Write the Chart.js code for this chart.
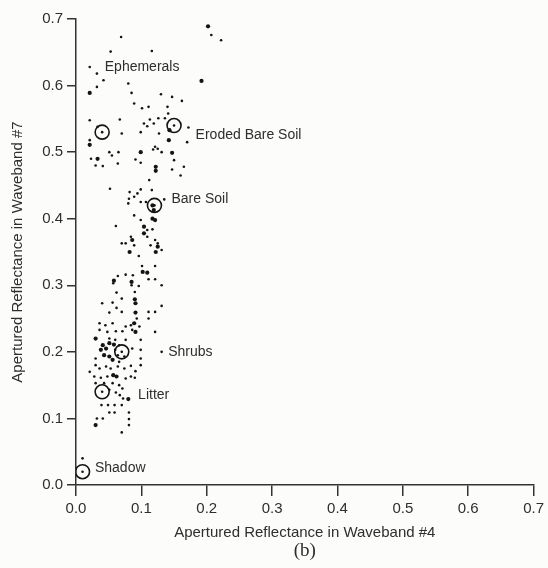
<!DOCTYPE html>
<html>
<head>
<meta charset="utf-8">
<script src="https://cdn.jsdelivr.net/npm/chart.js@4/dist/chart.umd.min.js"></script>
<style>
  html, body { margin: 0; padding: 0; background: #fcfcfa; }
  #wrap { width: 548px; height: 568px; position: relative; }
</style>
</head>
<body>
<div id="wrap"><canvas id="c"></canvas></div>
<script>
// Reflectance samples: waveband #4 (x) against waveband #7 (y)
const band4 = [
  0.207, 0.222, 0.069, 0.053, 0.116, 0.021, 0.032, 0.042, 0.032, 0.080, 0.085, 0.130,
  0.147, 0.162, 0.089, 0.101, 0.111, 0.140, 0.141, 0.021, 0.067, 0.113, 0.126, 0.136,
  0.104, 0.109, 0.119, 0.033, 0.070, 0.172, 0.099, 0.127, 0.170, 0.021, 0.051, 0.055,
  0.065, 0.121, 0.125, 0.118, 0.131, 0.023, 0.064, 0.091, 0.099, 0.030, 0.041, 0.150,
  0.165,
  0.147, 0.160, 0.112, 0.052, 0.099, 0.116, 0.094, 0.089, 0.082, 0.081, 0.080, 0.099,
  0.107, 0.135, 0.089, 0.099, 0.061, 0.109, 0.117, 0.109, 0.084, 0.076, 0.121, 0.125,
  0.070, 0.089, 0.114, 0.131, 0.096, 0.101, 0.121, 0.064, 0.076, 0.087, 0.057, 0.085,
  0.111, 0.121, 0.096, 0.131, 0.062, 0.090, 0.070, 0.040, 0.056, 0.062, 0.131, 0.051,
  0.070, 0.111, 0.121, 0.093, 0.111,
  0.036, 0.045, 0.056, 0.076, 0.084, 0.097, 0.121, 0.036, 0.048, 0.061, 0.071, 0.086,
  0.051, 0.060, 0.076, 0.099, 0.066, 0.060, 0.086, 0.099, 0.064, 0.074, 0.099, 0.030,
  0.066, 0.099, 0.021, 0.030, 0.036, 0.046, 0.053, 0.064, 0.074, 0.084, 0.028, 0.038,
  0.048, 0.076, 0.084, 0.090, 0.091, 0.030, 0.043, 0.056, 0.066, 0.051, 0.071, 0.131,
  0.061, 0.067, 0.072, 0.039, 0.049, 0.059, 0.070, 0.051, 0.059, 0.081, 0.032, 0.041,
  0.081, 0.081, 0.070, 0.010
];
const band7 = [
  0.676, 0.668, 0.673, 0.651, 0.652, 0.628, 0.618, 0.608, 0.598, 0.603, 0.589, 0.587,
  0.583, 0.577, 0.573, 0.566, 0.568, 0.568, 0.558, 0.548, 0.549, 0.549, 0.551, 0.551,
  0.543, 0.539, 0.543, 0.538, 0.528, 0.537, 0.530, 0.528, 0.515, 0.518, 0.500, 0.495,
  0.500, 0.508, 0.505, 0.504, 0.500, 0.490, 0.483, 0.489, 0.484, 0.480, 0.479, 0.488,
  0.478,
  0.474, 0.465, 0.458, 0.445, 0.444, 0.443, 0.438, 0.433, 0.440, 0.430, 0.423, 0.425,
  0.425, 0.429, 0.405, 0.398, 0.389, 0.383, 0.384, 0.373, 0.373, 0.363, 0.368, 0.363,
  0.363, 0.360, 0.360, 0.353, 0.344, 0.329, 0.329, 0.314, 0.316, 0.315, 0.303, 0.300,
  0.309, 0.309, 0.299, 0.300, 0.289, 0.290, 0.280, 0.273, 0.274, 0.266, 0.269, 0.259,
  0.260, 0.260, 0.260, 0.250, 0.250,
  0.243, 0.240, 0.243, 0.238, 0.240, 0.238, 0.230, 0.233, 0.230, 0.231, 0.231, 0.233,
  0.220, 0.218, 0.218, 0.218, 0.210, 0.203, 0.205, 0.203, 0.195, 0.193, 0.190, 0.190,
  0.185, 0.180, 0.170, 0.180, 0.175, 0.178, 0.175, 0.178, 0.175, 0.179, 0.163, 0.161,
  0.163, 0.160, 0.163, 0.161, 0.171, 0.153, 0.153, 0.153, 0.150, 0.143, 0.145, 0.200,
  0.139, 0.135, 0.130, 0.120, 0.120, 0.120, 0.120, 0.109, 0.109, 0.109, 0.100, 0.100,
  0.099, 0.090, 0.079, 0.040
];

// Heavier (overprinted) samples
const band4Dense = [
  0.202, 0.192, 0.021, 0.143, 0.142, 0.021, 0.099, 0.147, 0.033, 0.122,
  0.122, 0.117, 0.119, 0.117, 0.121, 0.104, 0.104, 0.086, 0.125, 0.122, 0.082,
  0.102, 0.109, 0.058, 0.085, 0.090, 0.091, 0.091,
  0.089, 0.091, 0.030, 0.041, 0.051, 0.058, 0.038, 0.046, 0.043, 0.051, 0.056,
  0.057, 0.062, 0.080, 0.030
];
const band7Dense = [
  0.689, 0.607, 0.589, 0.533, 0.518, 0.511, 0.500, 0.499, 0.490, 0.478,
  0.472, 0.420, 0.413, 0.400, 0.398, 0.388, 0.378, 0.368, 0.358, 0.350, 0.350,
  0.320, 0.319, 0.307, 0.305, 0.279, 0.273, 0.259,
  0.243, 0.230, 0.220, 0.210, 0.213, 0.211, 0.203, 0.205, 0.195, 0.193, 0.188,
  0.165, 0.163, 0.129, 0.090
];

// Circled surface types
const siteNames = ['Ephemerals', 'Eroded Bare Soil', 'Bare Soil', 'Shrubs', 'Litter', 'Shadow'];
const siteBand4 = [0.040, 0.150, 0.120, 0.070, 0.040, 0.010];
const siteBand7 = [0.530, 0.540, 0.420, 0.200, 0.140, 0.020];

// Where each name is written (data units, left edge of the text)
const labelBand4 = [0.044, 0.183, 0.146, 0.141, 0.095, 0.029];
const labelBand7 = [0.628, 0.526, 0.429, 0.199, 0.135, 0.026];

const tickValues = [0, 0.1, 0.2, 0.3, 0.4, 0.5, 0.6, 0.7];

const INK = '#141414';
const AXIS = '#333333';
const TEXT = '#2e2e2e';
const SANS = '"Liberation Sans", Arial, sans-serif';

const toPoints = (xs, ys) => xs.map((x, i) => ({ x, y: ys[i] }));

const siteLabels = {
  id: 'siteLabels',
  afterDatasetsDraw(chart) {
    const { ctx, scales } = chart;
    ctx.save();
    ctx.fillStyle = TEXT;
    ctx.font = '14px ' + SANS;
    ctx.textAlign = 'left';
    ctx.textBaseline = 'middle';
    siteNames.forEach((name, i) => {
      ctx.fillText(name, scales.x.getPixelForValue(labelBand4[i]), scales.y.getPixelForValue(labelBand7[i]));
    });
    ctx.restore();
  }
};

const caption = {
  id: 'caption',
  afterDraw(chart) {
    const { ctx, chartArea } = chart;
    ctx.save();
    ctx.fillStyle = TEXT;
    ctx.font = '19px "Liberation Serif", "Times New Roman", serif';
    ctx.textAlign = 'center';
    ctx.textBaseline = 'middle';
    ctx.fillText('(b)', (chartArea.left + chartArea.right) / 2, 551);
    ctx.restore();
  }
};

const fixedTicks = (scale) => { scale.ticks = tickValues.map(v => ({ value: v })); };

new Chart(document.getElementById('c'), {
  type: 'scatter',
  data: {
    datasets: [
      {
        data: toPoints(band4, band7),
        pointRadius: 1.3,
        pointBackgroundColor: INK,
        pointBorderWidth: 0
      },
      {
        data: toPoints(band4Dense, band7Dense),
        pointRadius: 2.1,
        pointBackgroundColor: INK,
        pointBorderWidth: 0
      },
      {
        data: toPoints(siteBand4, siteBand7),
        pointRadius: 1.3,
        pointBackgroundColor: INK,
        pointBorderWidth: 0
      },
      {
        data: toPoints(siteBand4, siteBand7),
        pointRadius: 7,
        pointBackgroundColor: 'rgba(0,0,0,0)',
        pointBorderColor: INK,
        pointBorderWidth: 1.6
      }
    ]
  },
  options: {
    responsive: true,
    maintainAspectRatio: false,
    animation: false,
    events: [],
    layout: { padding: { left: 0, top: 19, right: 13, bottom: 0 } },
    plugins: { legend: { display: false }, tooltip: { enabled: false } },
    scales: {
      x: {
        type: 'linear',
        min: 0,
        max: 0.7,
        afterBuildTicks: fixedTicks,
        afterFit: (s) => { s.height = 83; },
        grid: { drawOnChartArea: false, drawTicks: true, tickLength: 11, color: AXIS, lineWidth: 1.5 },
        border: { display: true, color: AXIS, width: 1.5 },
        ticks: {
          padding: 4,
          maxRotation: 0,
          color: TEXT,
          font: { family: SANS, size: 15 },
          callback: (v) => Number(v).toFixed(1)
        },
        title: {
          display: true,
          text: 'Apertured Reflectance in Waveband #4',
          color: TEXT,
          font: { family: SANS, size: 15 },
          padding: { top: 0, bottom: 26 }
        }
      },
      y: {
        type: 'linear',
        min: 0,
        max: 0.7,
        afterBuildTicks: fixedTicks,
        afterFit: (s) => { s.width = 76; },
        grid: { drawOnChartArea: false, drawTicks: true, tickLength: 9, color: AXIS, lineWidth: 1.5 },
        border: { display: true, color: AXIS, width: 1.5 },
        ticks: {
          padding: 4,
          color: TEXT,
          font: { family: SANS, size: 15 },
          callback: (v) => Number(v).toFixed(1)
        },
        title: {
          display: true,
          text: 'Apertured Reflectance in Waveband #7',
          color: TEXT,
          font: { family: SANS, size: 15 },
          padding: { top: 9, bottom: 0 }
        }
      }
    }
  },
  plugins: [siteLabels, caption]
});
</script>
</body>
</html>
